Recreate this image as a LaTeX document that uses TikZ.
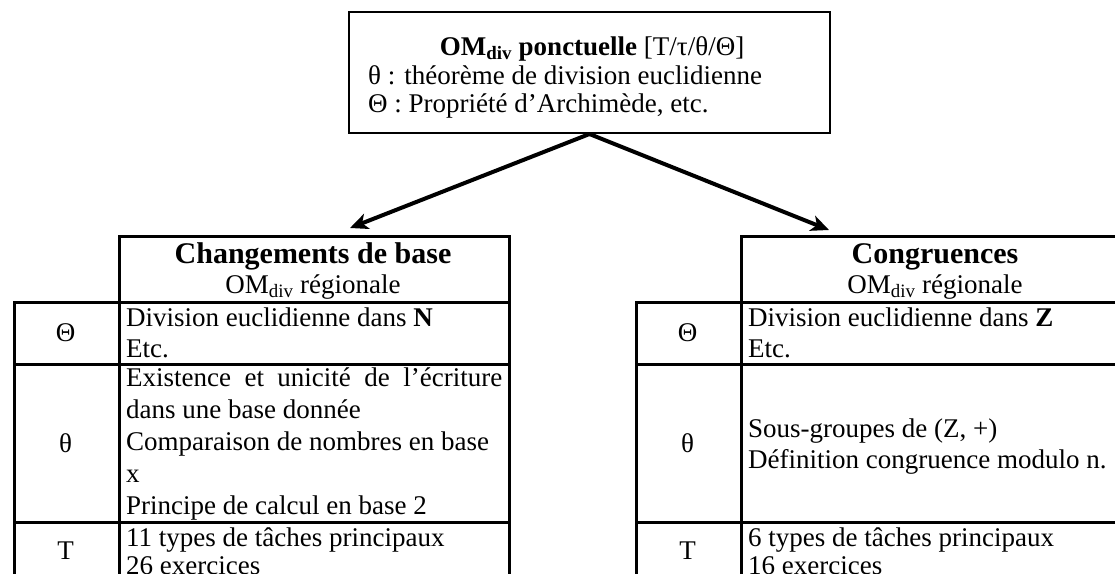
\documentclass[tikz,border=0pt]{standalone}
\usepackage{fontspec}
\setmainfont{Liberation Serif}
\usetikzlibrary{arrows.meta}
\begin{document}
\begin{tikzpicture}[x=1pt,y=-1pt,
  txt/.style={inner sep=0pt, anchor=base west, font=\fontsize{27}{31}\selectfont},
  ctxt/.style={inner sep=0pt, anchor=base, font=\fontsize{27}{31}\selectfont},
  hd/.style={inner sep=0pt, anchor=base, font=\fontsize{30}{34}\selectfont\bfseries},
  cell/.style={draw, line width=3pt, inner sep=0pt, anchor=north west},
  topbox/.style={draw, line width=2pt, inner sep=0pt},
  conn/.style={line width=4pt, -{Stealth[length=18pt,width=16pt,inset=5pt]}}
]
\useasboundingbox (0,0) rectangle (1115,573);
\clip (0,0) rectangle (1115,573);

% top box
\node[topbox, minimum width=481pt, minimum height=121pt] (top) at (589.5,72.5) {};
\node[ctxt] (t1) at (592,55) {\textbf{OM\textsubscript{div} ponctuelle} [T/τ/θ/Θ]};
\node[txt] (t2) at (368,84) {θ : théorème de division euclidienne};
\node[txt] (t3) at (368,112) {Θ : Propriété d’Archimède, etc.};

% left table
\node[cell, minimum width=390pt, minimum height=66pt] (lh) at (118,235) {};
\node[cell, minimum width=105pt, minimum height=62pt] (lc1) at (13,301) {};
\node[cell, minimum width=105pt, minimum height=158pt] (lc2) at (13,363) {};
\node[cell, minimum width=105pt, minimum height=90pt] (lc3) at (13,521) {};
\node[cell, minimum width=390pt, minimum height=62pt] (ld1) at (118,301) {};
\node[cell, minimum width=390pt, minimum height=158pt] (ld2) at (118,363) {};
\node[cell, minimum width=390pt, minimum height=90pt] (ld3) at (118,521) {};

\node[hd] (lh1) at (313,263) {Changements de base};
\node[ctxt] (lh2) at (313,293) {OM\textsubscript{div} régionale};
\node[ctxt] (ls1) at (65.5,341) {Θ};
\node[ctxt] (ls2) at (65.5,452) {θ};
\node[ctxt] (ls3) at (65.5,559) {T};
\node[txt] (la1) at (126,326) {Division euclidienne dans \textbf{N}};
\node[txt] (la2) at (126,357) {Etc.};
\node[txt] (lb1) at (126,386) {\makebox[376pt][s]{Existence et unicité de l’écriture}};
\node[txt] (lb2) at (126,418) {dans une base donnée};
\node[txt] (lb3) at (126,450) {Comparaison de nombres en base};
\node[txt] (lb4) at (126,482) {x};
\node[txt] (lb5) at (126,514) {Principe de calcul en base 2};
\node[txt] (lt1) at (126,546) {11 types de tâches principaux};
\node[txt] (lt2) at (126,574) {26 exercices};

% right table
\node[cell, minimum width=390pt, minimum height=66pt] (rh) at (740,235) {};
\node[cell, minimum width=105pt, minimum height=62pt] (rc1) at (635,301) {};
\node[cell, minimum width=105pt, minimum height=158pt] (rc2) at (635,363) {};
\node[cell, minimum width=105pt, minimum height=90pt] (rc3) at (635,521) {};
\node[cell, minimum width=390pt, minimum height=62pt] (rd1) at (740,301) {};
\node[cell, minimum width=390pt, minimum height=158pt] (rd2) at (740,363) {};
\node[cell, minimum width=390pt, minimum height=90pt] (rd3) at (740,521) {};

\node[hd] (rh1) at (935,263) {Congruences};
\node[ctxt] (rh2) at (935,293) {OM\textsubscript{div} régionale};
\node[ctxt] (rs1) at (687.5,341) {Θ};
\node[ctxt] (rs2) at (687.5,452) {θ};
\node[ctxt] (rs3) at (687.5,559) {T};
\node[txt] (ra1) at (748,326) {Division euclidienne dans \textbf{Z}};
\node[txt] (ra2) at (748,357) {Etc.};
\node[txt] (rb1) at (748,437) {Sous-groupes de (Z, +)};
\node[txt] (rb2) at (748,468) {Définition congruence modulo n.};
\node[txt] (rt1) at (748,546) {6 types de tâches principaux};
\node[txt] (rt2) at (748,574) {16 exercices};

% connectors
\coordinate (ltip) at (350,228);
\coordinate (rtip) at (829,230);
\draw[conn] (top.south) -- (ltip);
\draw[conn] (top.south) -- (rtip);
\end{tikzpicture}
\end{document}
